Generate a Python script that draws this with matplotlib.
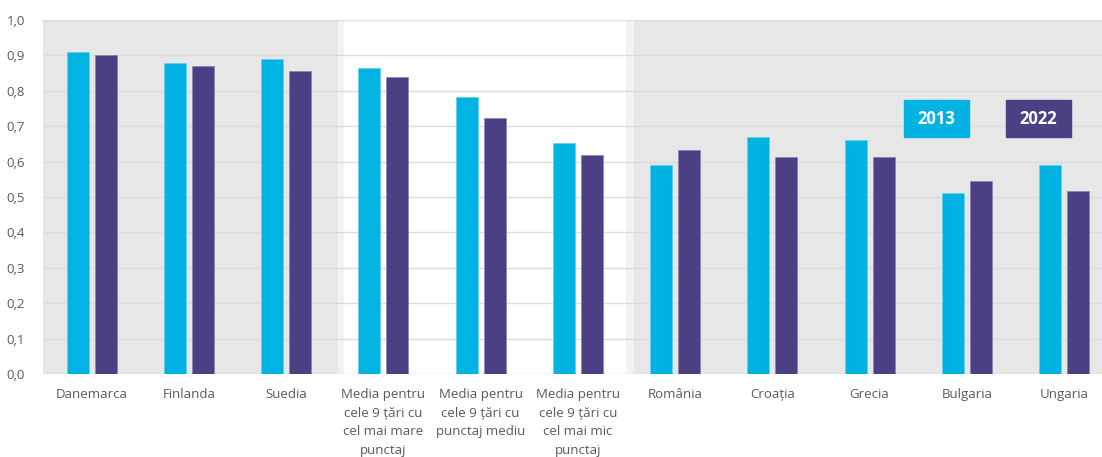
import matplotlib.pyplot as plt
import numpy as np
from matplotlib.patches import Rectangle

categories = ["Danemarca", "Finlanda", "Suedia",
              "Media pentru\ncele 9 țări cu\ncel mai mare\npunctaj",
              "Media pentru\ncele 9 țări cu\npunctaj mediu",
              "Media pentru\ncele 9 țări cu\ncel mai mic\npunctaj",
              "România", "Croația", "Grecia", "Bulgaria", "Ungaria"]
vals_2013 = [0.910, 0.879, 0.890, 0.864, 0.782, 0.653, 0.590, 0.669, 0.661, 0.511, 0.590]
vals_2022 = [0.901, 0.870, 0.856, 0.839, 0.723, 0.619, 0.633, 0.613, 0.613, 0.545, 0.517]
series_names = ["2013", "2022"]

CYAN = "#00B3E3"
PURPLE = "#4D3F84"
TXT = "#595959"

plt.rcParams["font.family"] = ["Open Sans", "DejaVu Sans"]

fig = plt.figure(figsize=(11.02, 4.57), dpi=100)
ax = fig.add_axes([43 / 1102, 83 / 457, 1059 / 1102, 354 / 457])

x = np.arange(len(categories))
w = 0.226
off = 0.144

# shaded blocks
ax.axvspan(-0.5, 2.53, color="#e7e7e7", lw=0, zorder=0)
ax.axvspan(2.53, 2.6, color="#f3f3f3", lw=0, zorder=0)
ax.axvspan(5.5, 5.58, color="#f3f3f3", lw=0, zorder=0)
ax.axvspan(5.58, 10.5, color="#e7e7e7", lw=0, zorder=0)

for yv in np.arange(0.1, 1.01, 0.1):
    ax.axhline(yv, color="#dcdcdc", lw=1, zorder=1)
ax.axhline(0, color="#d0d0d0", lw=1, zorder=1)

ax.bar(x - off, vals_2013, w, color=CYAN, edgecolor="#5fd0ef", lw=0.5, zorder=2)
ax.bar(x + off, vals_2022, w, color=PURPLE, edgecolor="#8a80b0", lw=0.5, zorder=2)

ax.set_xlim(-0.5, 10.39)
ax.set_ylim(0, 1.0)
ax.set_yticks(np.arange(0, 1.01, 0.1))
ax.set_yticklabels([f"{v:.1f}".replace(".", ",") for v in np.arange(0, 1.01, 0.1)])
ax.set_xticks(x)
ax.set_xticklabels(categories, linespacing=1.58)
ax.tick_params(axis="both", length=0, labelsize=9.5, colors=TXT)
ax.tick_params(axis="y", pad=13)
ax.tick_params(axis="x", pad=10)
for s in ax.spines.values():
    s.set_visible(False)

# legend boxes
for x0, name, col in [(0.813, series_names[0], CYAN), (0.909, series_names[1], PURPLE)]:
    ax.add_patch(Rectangle((x0, 0.669), 0.0614, 0.1045, transform=ax.transAxes,
                           color=col, zorder=3, clip_on=False))
    ax.text(x0 + 0.0307, 0.669 + 0.052, name, transform=ax.transAxes, ha="center",
            va="center", color="white", fontsize=12, fontweight="bold", zorder=4)

fig.savefig("out.png", dpi=100)
